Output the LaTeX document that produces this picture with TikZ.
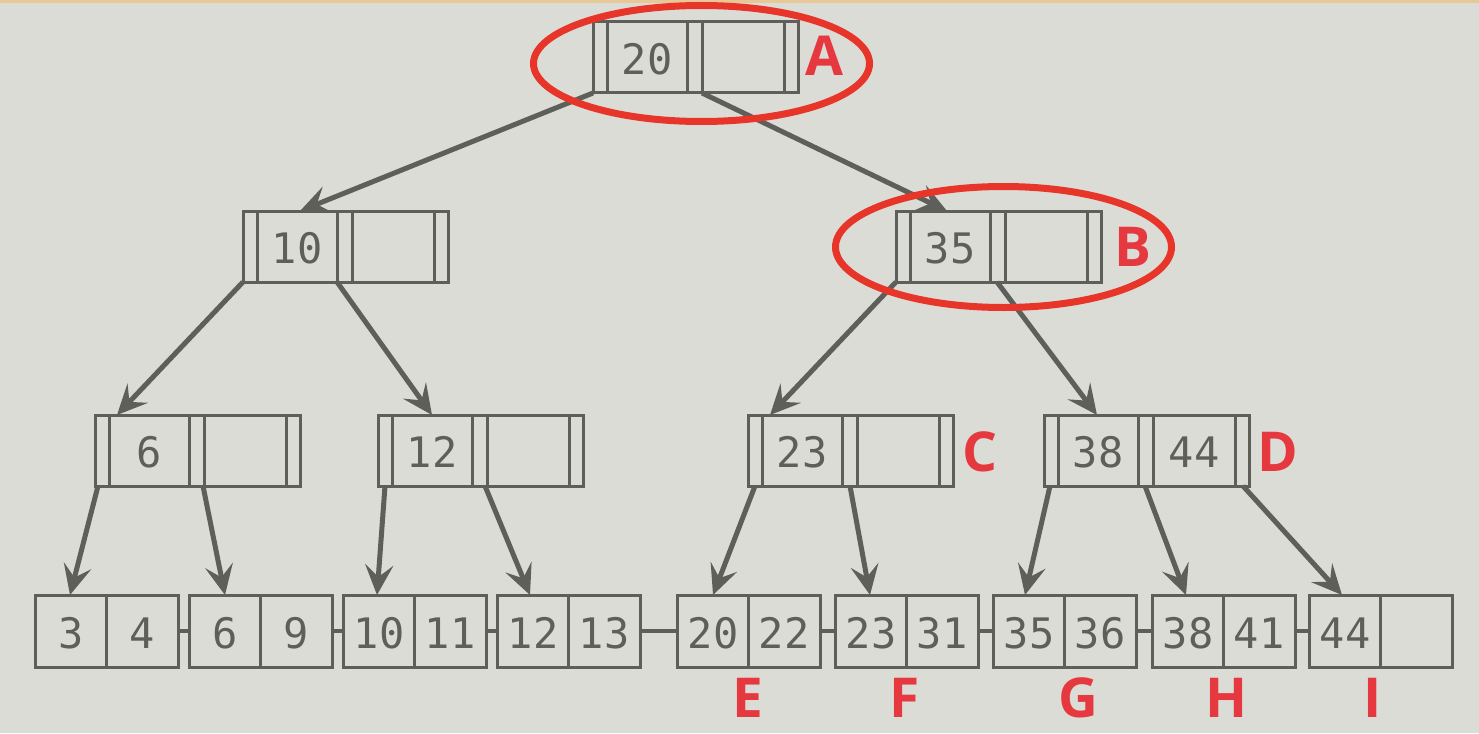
\documentclass[tikz,border=0pt]{standalone}
\usepackage{fontspec}
\usetikzlibrary{arrows.meta,shapes.geometric,calc}
\newfontfamily\keyfont{DejaVu Sans Mono}
\newfontfamily\labfont{Open Sans}
\definecolor{bg}{HTML}{DCDCD7}
\definecolor{ink}{HTML}{5E5F5A}
\definecolor{ringred}{HTML}{E8352A}
\definecolor{labred}{HTML}{E6393F}
\definecolor{topband}{HTML}{E9C898}

\tikzset{
  boxline/.style={draw=ink, line width=3pt},
  ibox/.style={boxline, rectangle, minimum width=205pt, minimum height=71pt,
               inner sep=0pt, outer sep=0pt, anchor=north west},
  lbox/.style={boxline, rectangle, minimum width=143pt, minimum height=72pt,
               inner sep=0pt, outer sep=0pt, anchor=north west},
  keytxt/.style={text=ink, font=\keyfont\fontsize{42}{42}\selectfont,
                 inner sep=0pt, text height=30pt, text depth=0pt, yshift=-2pt},
  tag/.style={text=labred, font=\labfont\bfseries\fontsize{55}{55}\selectfont,
              inner sep=0pt, text height=39pt, text depth=0pt},
  ptr/.style={draw=ink, line width=5pt,
              -{Stealth[length=30pt,width=28pt,inset=12pt]}},
  chain/.style={draw=ink, line width=4pt},
  redring/.style={draw=ringred, line width=7pt, ellipse, inner sep=0pt},
}

% inner B+tree node: name, left x, top y, first key, second key
\newcommand\innernode[5]{%
  \node[ibox] (#1) at (#2,#3) {};
  \foreach \dx in {14,94,109,191}
    \draw[boxline] ([xshift=\dx pt]#1.north west) -- ([xshift=\dx pt]#1.south west);
  \node[keytxt] (#1-a) at ([xshift=54pt]#1.west) {#4};
  \node[keytxt] (#1-b) at ([xshift=150pt]#1.west) {#5};
}
% leaf node: name, left x, top y, first key, second key
\newcommand\leafnode[5]{%
  \node[lbox] (#1) at (#2,#3) {};
  \draw[boxline] (#1.north) -- (#1.south);
  \node[keytxt] (#1-a) at ([xshift=36pt]#1.west) {#4};
  \node[keytxt] (#1-b) at ([xshift=-36pt]#1.east) {#5};
}

\begin{document}
\begin{tikzpicture}[x=1pt,y=-1pt]
  \fill[bg] (0,0) rectangle (1479,733);
  \fill[topband] (0,0) rectangle (1479,3);
  \useasboundingbox (0,0) rectangle (1479,733);

  % inner levels
  \innernode{root}{593}{22}{20}{}
  \innernode{n10}{243}{211}{10}{}
  \innernode{n35}{896}{211}{35}{}
  \innernode{n6}{95}{415}{6}{}
  \innernode{n12}{378}{415}{12}{}
  \innernode{n23}{748}{415}{23}{}
  \innernode{nD}{1044}{415}{38}{44}

  % leaf level
  \leafnode{l1}{35}{595}{3}{4}
  \leafnode{l2}{189}{595}{6}{9}
  \leafnode{l3}{343}{595}{10}{11}
  \leafnode{l4}{497}{595}{12}{13}
  \leafnode{l5}{677}{595}{20}{22}
  \leafnode{l6}{835}{595}{23}{31}
  \leafnode{l7}{993}{595}{35}{36}
  \leafnode{l8}{1152}{595}{38}{41}
  \leafnode{l9}{1309}{595}{44}{}

  % sibling links between leaves
  \foreach \a/\b in {l1/l2,l2/l3,l3/l4,l4/l5,l5/l6,l6/l7,l7/l8,l8/l9}
    \draw[chain] (\a.east) -- (\b.west);

  % child pointers
  \draw[ptr] (root.south west) -- ([xshift=57pt]n10.north west);
  \draw[ptr] ([xshift=109pt]root.south west) -- ([xshift=51pt]n35.north west);
  \draw[ptr] (n10.south west) -- ([xshift=22pt]n6.north west);
  \draw[ptr] ([xshift=94pt]n10.south west) -- ([xshift=54pt]n12.north west);
  \draw[ptr] (n35.south west) -- ([xshift=22pt]n23.north west);
  \draw[ptr] ([xshift=101pt]n35.south west) -- ([xshift=53pt]nD.north west);
  \draw[ptr] ([xshift=3pt]n6.south west) -- ([xshift=35pt]l1.north west);
  \draw[ptr] ([xshift=108pt]n6.south west) -- ([xshift=36pt]l2.north west);
  \draw[ptr] ([xshift=7pt]n12.south west) -- ([xshift=34pt]l3.north west);
  \draw[ptr] ([xshift=107pt]n12.south west) -- ([xshift=33pt]l4.north west);
  \draw[ptr] ([xshift=7pt]n23.south west) -- ([xshift=36pt]l5.north west);
  \draw[ptr] ([xshift=102pt]n23.south west) -- ([xshift=35pt]l6.north west);
  \draw[ptr] ([xshift=6pt]nD.south west) -- ([xshift=32pt]l7.north west);
  \draw[ptr] ([xshift=101pt]nD.south west) -- ([xshift=34pt]l8.north west);
  \draw[ptr] ([xshift=-6pt]nD.south east) -- ([xshift=33pt]l9.north west);

  % highlight rings
  \node[redring, minimum width=336pt, minimum height=116pt] (ringA) at (701.5,63.5) {};
  \node[redring, minimum width=336pt, minimum height=121pt] (ringB) at (1003.5,247) {};

  % red tags
  \node[tag] (tA) at (824,56) {A};
  \node[tag] (tB) at (1133,247) {B};
  \node[tag] (tC) at (980,452) {C};
  \node[tag] (tD) at (1278,452) {D};
  \node[tag] (tE) at (748,698) {E};
  \node[tag] (tF) at (905,698) {F};
  \node[tag] (tG) at (1078,698) {G};
  \node[tag] (tH) at (1227,698) {H};
  \node[tag] (tI) at (1373,698) {I};
\end{tikzpicture}
\end{document}
